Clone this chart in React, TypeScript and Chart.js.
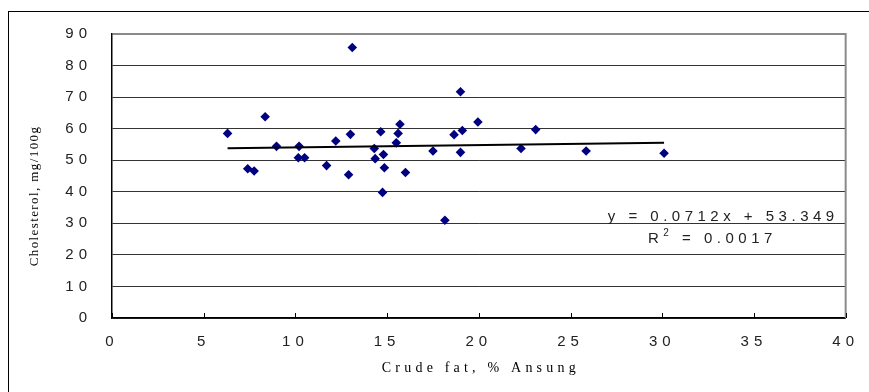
import React, { useEffect, useRef } from 'react';
import { Chart, registerables } from 'chart.js';

Chart.register(...registerables);

// Crude fat (%) of each sample
const fatX = [
  6.3, 7.4, 7.75, 8.35, 8.97, 10.2, 10.16, 10.5, 11.7, 12.2,
  13.0, 13.1, 12.9, 14.3, 14.35, 14.65, 14.8, 14.85, 14.75, 15.6,
  15.7, 15.5, 16.0, 17.5, 18.15, 18.65, 19.1, 19.0, 19.0, 19.95,
  22.3, 23.1, 25.85, 30.1,
];
// Cholesterol (mg/100g) of each sample
const cholY = [
  58.5, 47.3, 46.6, 63.8, 54.4, 54.4, 50.8, 50.8, 48.3, 56.1,
  58.2, 85.7, 45.4, 53.7, 50.5, 59.0, 51.8, 47.6, 39.8, 58.5,
  61.4, 55.5, 46.1, 52.9, 31.0, 58.1, 59.4, 71.7, 52.5, 62.1,
  53.7, 59.7, 52.9, 52.2,
];
// Linear trendline end points
const trendX = [6.3, 30.1];
const trendY = [53.8, 55.5];

const xRange = [0, 40];
const xStep = 5;
const yRange = [0, 90];
const yStep = 10;

const xTitle = 'Crude fat, % Ansung';
const yTitle = 'Cholesterol, mg/100g';
const equationText = 'y = 0.0712x + 53.349';
const r2Label = 'R';
const r2Sup = '2';
const r2Rest = ' = 0.0017';

const SANS = '"Liberation Sans", Arial, sans-serif';
const SERIF = '"Liberation Serif", "Times New Roman", serif';

export default function App() {
  const ref = useRef<HTMLCanvasElement | null>(null);

  useEffect(() => {
    const canvas = ref.current;
    if (!canvas) return;

    const decor = {
      id: 'decor',
      beforeDraw(chart: any) {
        chart.ctx.letterSpacing = '5px';
      },
      beforeDatasetsDraw(chart: any) {
        const ctx = chart.ctx;
        const a = chart.chartArea;
        ctx.save();
        // gray right frame of the plot area
        ctx.strokeStyle = '#8a8a8a';
        ctx.lineWidth = 2;
        ctx.beginPath();
        ctx.moveTo(a.right, a.top - 1);
        ctx.lineTo(a.right, a.bottom);
        ctx.stroke();
        // inside tick marks on the x axis
        const xs = chart.scales.x;
        ctx.strokeStyle = '#000';
        ctx.lineWidth = 1;
        ctx.beginPath();
        xs.ticks.forEach((t: any) => {
          const px = Math.round(xs.getPixelForValue(t.value)) + 0.5;
          ctx.moveTo(px, a.bottom);
          ctx.lineTo(px, a.bottom - 5);
        });
        ctx.stroke();
        ctx.restore();
      },
      afterDraw(chart: any) {
        const ctx = chart.ctx;
        const a = chart.chartArea;
        ctx.save();
        ctx.fillStyle = '#000';

        // y axis title
        ctx.save();
        ctx.letterSpacing = '1.4px';
        ctx.font = `13px ${SERIF}`;
        ctx.translate(35, 196);
        ctx.rotate(-Math.PI / 2);
        ctx.textAlign = 'center';
        ctx.textBaseline = 'middle';
        ctx.fillText(yTitle, 0, 0);
        ctx.restore();

        // x axis title
        ctx.save();
        ctx.letterSpacing = '4.2px';
        ctx.font = `14px ${SERIF}`;
        ctx.textAlign = 'center';
        ctx.textBaseline = 'middle';
        ctx.fillText(xTitle, (a.left + a.right) / 2 + 2, 368);
        ctx.restore();

        // trendline equation
        ctx.save();
        ctx.fillStyle = '#222';
        ctx.letterSpacing = '4.5px';
        ctx.font = `15px ${SANS}`;
        ctx.textAlign = 'right';
        ctx.textBaseline = 'alphabetic';
        ctx.fillText(equationText, a.right - 7, 221);
        ctx.textAlign = 'left';
        let x = 648;
        ctx.fillText(r2Label, x, 243);
        x += ctx.measureText(r2Label).width;
        ctx.font = `10px ${SANS}`;
        ctx.fillText(r2Sup, x, 236);
        x += ctx.measureText(r2Sup).width;
        ctx.font = `15px ${SANS}`;
        ctx.fillText(r2Rest, x, 243);
        ctx.restore();

        // outer chart-area border
        ctx.strokeStyle = '#000';
        ctx.lineWidth = 1;
        ctx.strokeRect(8.5, 11.5, 1000, 1000);
        ctx.restore();
      },
    };

    const chart = new Chart(canvas, {
      type: 'scatter',
      data: {
        datasets: [
          {
            type: 'line',
            data: trendX.map((x, i) => ({ x, y: trendY[i] })),
            borderColor: '#000',
            borderWidth: 2,
            pointRadius: 0,
            fill: false,
            order: 0,
          } as any,
          {
            type: 'scatter',
            data: fatX.map((x, i) => ({ x, y: cholY[i] })),
            pointStyle: 'rectRot',
            pointRadius: 4.8,
            backgroundColor: '#000080',
            borderColor: '#000080',
            borderWidth: 0,
            order: 1,
          },
        ],
      },
      options: {
        responsive: false,
        animation: false,
        devicePixelRatio: 1,
        layout: { padding: { top: 34, right: 21, left: 0, bottom: 0 } },
        plugins: {
          legend: { display: false },
          tooltip: { enabled: false },
        },
        scales: {
          x: {
            type: 'linear',
            min: xRange[0],
            max: xRange[1],
            afterFit: (s: any) => { s.height = 74; },
            ticks: {
              stepSize: xStep,
              color: '#222',
              font: { family: SANS, size: 15 },
              padding: 15,
              maxRotation: 0,
            },
            grid: { display: true, drawOnChartArea: false, drawTicks: false },
            border: { display: true, color: '#000', width: 1.5 },
          },
          y: {
            type: 'linear',
            min: yRange[0],
            max: yRange[1],
            afterFit: (s: any) => { s.width = 112; },
            ticks: {
              stepSize: yStep,
              color: '#222',
              font: { family: SANS, size: 15 },
              padding: 20,
            },
            grid: {
              drawTicks: false,
              color: (c: any) => (c.tick && c.tick.value === yRange[1] ? '#8a8a8a' : '#333'),
              lineWidth: (c: any) => (c.tick && c.tick.value === yRange[1] ? 2 : 1),
            },
            border: { display: true, color: '#000', width: 1.5 },
          },
        },
      },
      plugins: [decor],
    });

    return () => chart.destroy();
  }, []);

  return (
    <div style={{ position: 'absolute', left: 0, top: 0, width: 869, height: 392 }}>
      <canvas ref={ref} width={869} height={392} style={{ display: 'block' }} />
    </div>
  );
}
